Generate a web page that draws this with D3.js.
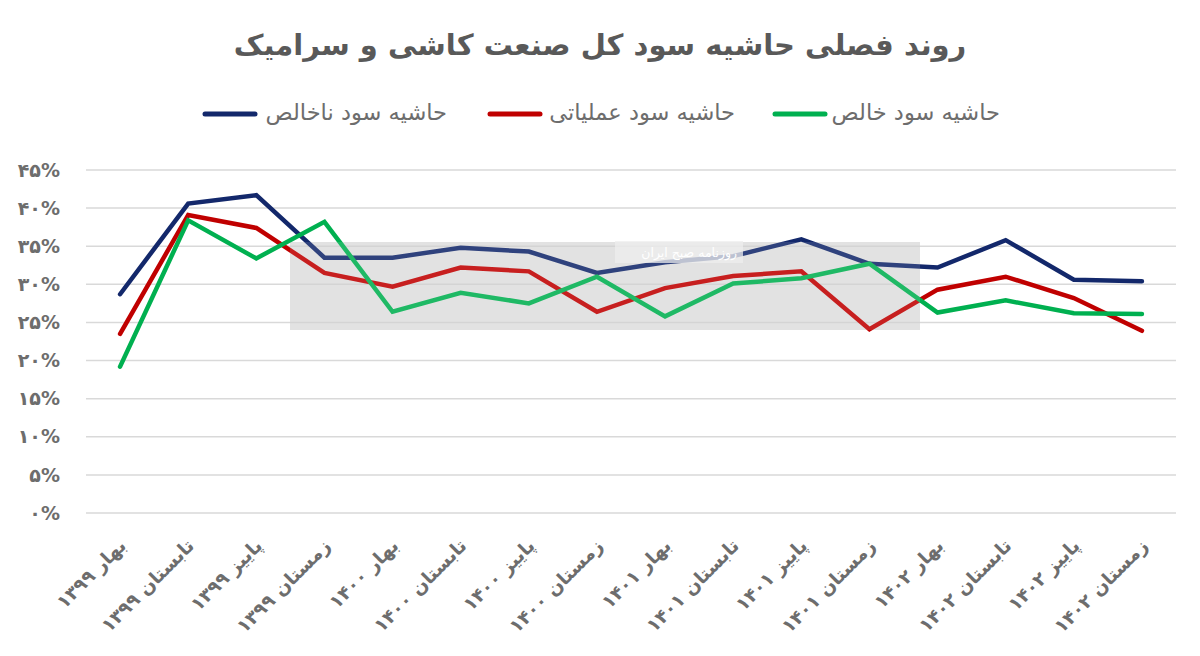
<!DOCTYPE html>
<html>
<head>
<meta charset="utf-8">
<script src="https://cdn.jsdelivr.net/npm/d3@7"></script>
<style>
  body { margin: 0; background: #fff; }
  text { font-family: "DejaVu Sans", sans-serif; }
</style>
</head>
<body>
<svg id="chart" width="1200" height="656"></svg>
<script>
'use strict'

var quarters = ['بهار ۱۳۹۹', 'تابستان ۱۳۹۹', 'پاییز ۱۳۹۹', 'زمستان ۱۳۹۹',
  'بهار ۱۴۰۰', 'تابستان ۱۴۰۰', 'پاییز ۱۴۰۰', 'زمستان ۱۴۰۰',
  'بهار ۱۴۰۱', 'تابستان ۱۴۰۱', 'پاییز ۱۴۰۱', 'زمستان ۱۴۰۱',
  'بهار ۱۴۰۲', 'تابستان ۱۴۰۲', 'پاییز ۱۴۰۲', 'زمستان ۱۴۰۲'];

var grossMargin = [28.7, 40.6, 41.7, 33.5, 33.5, 34.8, 34.3, 31.5, 32.9, 33.7, 35.9, 32.7, 32.2, 35.8, 30.6, 30.4];
var operatingMargin = [23.5, 39.1, 37.4, 31.5, 29.7, 32.2, 31.7, 26.4, 29.5, 31.1, 31.7, 24.1, 29.3, 31.0, 28.2, 23.9];
var netMargin = [19.2, 38.4, 33.4, 38.2, 26.4, 28.9, 27.5, 31.0, 25.8, 30.1, 30.8, 32.7, 26.3, 27.9, 26.2, 26.1];

var yTicks = [0, 5, 10, 15, 20, 25, 30, 35, 40, 45];

var seriesNames = ['حاشیه سود ناخالص', 'حاشیه سود عملیاتی', 'حاشیه سود خالص'];
var seriesColors = ['#13286b', '#c00000', '#00b050'];

var title = 'روند فصلی حاشیه سود کل صنعت کاشی و سرامیک';

function faDigits(s){
  return String(s).replace(/[0-9]/g, function(d){ return '۰۱۲۳۴۵۶۷۸۹'[+d]; });
}

var svg = d3.select('#chart');

var plotLeft = 86, plotRight = 1176, plotTop = 170, plotBottom = 513;

var x = d3.scalePoint()
  .domain(quarters)
  .range([plotLeft, plotRight])
  .padding(0.5);

var y = d3.scaleLinear()
  .domain([0, 45])
  .range([plotBottom, plotTop]);

// title
svg.append('text')
  .attr('x', 600)
  .attr('y', 55)
  .attr('text-anchor', 'middle')
  .attr('direction', 'rtl')
  .attr('font-size', 29)
  .attr('font-weight', 'bold')
  .attr('fill', '#595959')
  .text(title);

// grid
svg.append('g')
  .selectAll('line')
  .data(yTicks)
  .enter()
  .append('line')
  .attr('x1', plotLeft)
  .attr('x2', plotRight)
  .attr('y1', function(d){ return y(d); })
  .attr('y2', function(d){ return y(d); })
  .attr('stroke', '#d9d9d9')
  .attr('stroke-width', 1.5);

// watermark band (behind the lines)
svg.append('rect')
  .attr('x', 290).attr('y', 242)
  .attr('width', 630).attr('height', 88)
  .attr('fill', '#c4c4c4')
  .attr('opacity', 0.55);

// y labels
svg.append('g')
  .selectAll('text')
  .data(yTicks)
  .enter()
  .append('text')
  .attr('x', 60)
  .attr('y', function(d){ return y(d); })
  .attr('dy', '0.35em')
  .attr('text-anchor', 'end')
  .attr('font-size', 19)
  .attr('font-weight', 'bold')
  .attr('fill', '#6d6d6d')
  .text(function(d){ return faDigits(d) + '%'; });

// x labels
svg.append('g')
  .selectAll('text')
  .data(quarters)
  .enter()
  .append('text')
  .attr('transform', function(d){
    return 'translate(' + (x(d) + 7) + ',547) rotate(-45)';
  })
  .attr('text-anchor', 'end')
  .attr('font-size', 18.5)
  .attr('font-weight', 'bold')
  .attr('fill', '#6d6d6d')
  .text(function(d){ return d; });

// lines
var line = d3.line()
  .x(function(d, i){ return x(quarters[i]); })
  .y(function(d){ return y(d); });

[grossMargin, operatingMargin, netMargin].forEach(function(s, k){
  svg.append('path')
    .datum(s)
    .attr('d', line)
    .attr('fill', 'none')
    .attr('stroke', seriesColors[k])
    .attr('stroke-width', 4.5)
    .attr('stroke-linejoin', 'miter')
    .attr('stroke-linecap', 'round');
});

// light veil of the watermark over the lines
svg.append('rect')
  .attr('x', 290).attr('y', 242)
  .attr('width', 630).attr('height', 88)
  .attr('fill', '#ffffff')
  .attr('opacity', 0.12);
svg.append('rect')
  .attr('x', 615).attr('y', 241)
  .attr('width', 128).attr('height', 22)
  .attr('fill', '#eeeeee')
  .attr('opacity', 0.75);
svg.append('text')
  .attr('x', 737).attr('y', 257)
  .attr('direction', 'rtl')
  .attr('font-size', 12.5)
  .attr('fill', '#ffffff')
  .text('روزنامه صبح ایران');

// legend
var legendX = [[205, 447], [490, 735], [775, 1000]];
var legendIdx = [0, 1, 2];
var lg = svg.append('g')
  .selectAll('g')
  .data(legendIdx)
  .enter()
  .append('g');
lg.append('line')
  .attr('x1', function(d){ return legendX[d][0]; })
  .attr('x2', function(d){ return legendX[d][0] + 50; })
  .attr('y1', 114)
  .attr('y2', 114)
  .attr('stroke', function(d){ return seriesColors[d]; })
  .attr('stroke-width', 5)
  .attr('stroke-linecap', 'round');
lg.append('text')
  .attr('x', function(d){ return legendX[d][1]; })
  .attr('y', 112)
  .attr('dy', '0.35em')
  .attr('text-anchor', 'end')
  .attr('font-size', 22.5)
  .attr('fill', '#6d6d6d')
  .text(function(d){ return seriesNames[d]; });
</script>
</body>
</html>
